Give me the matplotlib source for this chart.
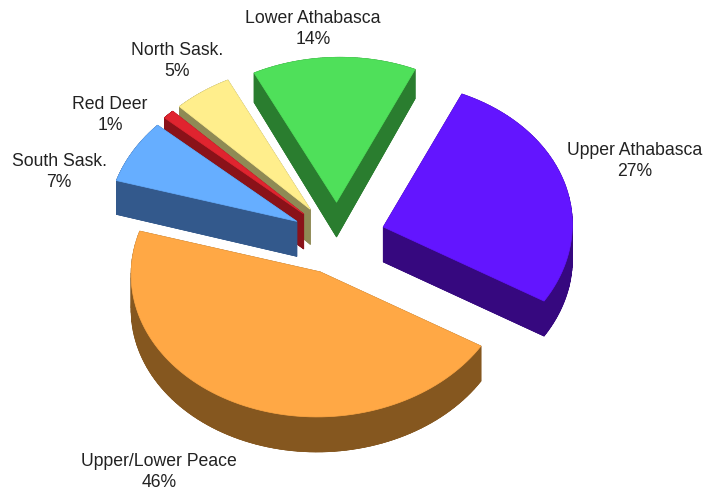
import numpy as np
import matplotlib
matplotlib.use("Agg")
import matplotlib.pyplot as plt
from matplotlib.patches import Polygon

plt.rcParams["font.family"] = ["Liberation Sans", "DejaVu Sans"]

# Share of the total per basin, clockwise from the top right
basins = ["Upper Athabasca", "Upper/Lower Peace", "South Sask.", "Red Deer", "North Sask.", "Lower Athabasca"]
shares = [27, 46, 7, 1, 5, 14]
top_colors = ["#6315FF", "#FFA845", "#66AEFF", "#E0242F", "#FFEE8C", "#4FE05A"]
side_colors = ["#36087F", "#85571F", "#33598C", "#8A1219", "#8F8A55", "#2A7D2F"]
label_xy = [(635, 161), (159, 472), (59, 172), (110, 115), (177, 61), (313, 29)]

WIDTH, HEIGHT = 706, 490
RX, RY = 189.0, 145.0      # radii of the tilted disc, in pixels
CX, CY = 338.5, 238.5      # disc centre
EXPLODE = 0.25             # radial offset of every slice
DEPTH = 35.0               # wall height at the front of the disc
DEPTH_FALLOFF = 0.04       # walls get shorter towards the back
SKEW_X, SKEW_Y = -0.04, 0.01   # slight rotation of the viewing ellipse
START = 67.2               # angle of the first slice edge, degrees


def slice_outline(a0, a1):
    """Top-face outline of one exploded slice, in pixel coordinates."""
    mid = np.radians((a0 + a1) / 2)
    ox = CX + EXPLODE * RX * np.cos(mid)
    oy = CY + EXPLODE * RY * np.sin(mid)
    t = np.radians(np.linspace(a0, a1, 90))
    dx = RX * np.cos(t)
    dy = RY * np.sin(t)
    xs = np.r_[ox, ox + dx + SKEW_X * dy]
    ys = np.r_[oy, oy + dy + SKEW_Y * dx]
    return np.column_stack([xs, ys])


fig = plt.figure(figsize=(WIDTH / 100, HEIGHT / 100), dpi=100)
ax = fig.add_axes([0, 0, 1, 1])
ax.set_xlim(0, WIDTH)
ax.set_ylim(HEIGHT, 0)
ax.axis("off")

# Slice edges run clockwise, so the y axis flip is undone by negating angles
edges = START - np.cumsum([0] + shares) * 3.6
slices = []
for i in range(len(shares)):
    a0, a1 = -edges[i], -edges[i + 1]
    slices.append((np.sin(np.radians((a0 + a1) / 2)), i, a0, a1))

# Paint from the back of the disc to the front
for _, i, a0, a1 in sorted(slices):
    top = slice_outline(a0, a1)
    depth = np.minimum(DEPTH, DEPTH + DEPTH_FALLOFF * (top[:, 1] - 210))
    bottom = top + np.column_stack([np.zeros(len(top)), depth])
    ax.add_patch(Polygon(bottom, closed=True, fc=side_colors[i], ec=side_colors[i], lw=0.5))
    n = len(top)
    for k in range(n):
        j = (k + 1) % n
        wall = [top[k], top[j], bottom[j], bottom[k]]
        ax.add_patch(Polygon(wall, closed=True, fc=side_colors[i], ec=side_colors[i], lw=0.5))
    ax.add_patch(Polygon(top, closed=True, fc=top_colors[i], ec=top_colors[i], lw=0.5))

for name, share, (x, y) in zip(basins, shares, label_xy):
    ax.text(x, y, f"{name}\n{share}%", ha="center", va="center",
            fontsize=12.7, color="#222222", linespacing=1.25)

fig.savefig("out.png", dpi=100)
